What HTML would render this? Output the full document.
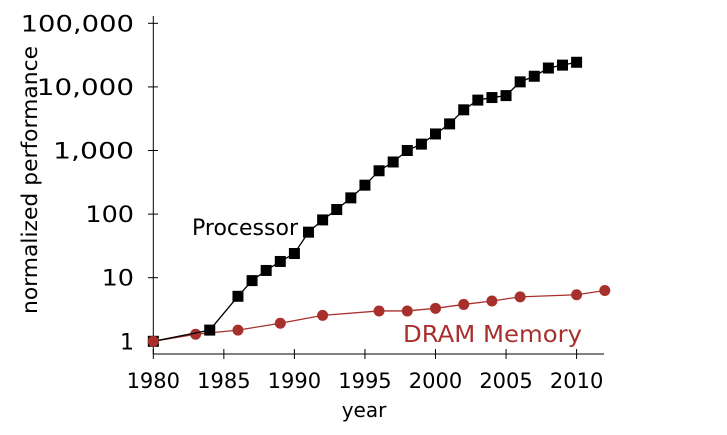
<!DOCTYPE html>
<html><head><meta charset="utf-8"><style>
html,body{margin:0;padding:0;background:#fff;}
svg{display:block;font-family:"DejaVu Sans","Liberation Sans",sans-serif;}
</style></head><body>
<svg id="chart" width="727" height="435" viewBox="0 0 727 435">
<g id="axes"></g>
<g id="series"></g>
<text x="192" y="235" font-size="22" textLength="106" lengthAdjust="spacingAndGlyphs" fill="#000">Processor</text>
<text x="403" y="342" font-size="23" textLength="179" lengthAdjust="spacingAndGlyphs" fill="#a8302c">DRAM Memory</text>
<text x="364" y="417" font-size="20" text-anchor="middle" fill="#000">year</text>
<text transform="translate(37,180) rotate(-90)" font-size="21" text-anchor="middle" textLength="268" lengthAdjust="spacingAndGlyphs" fill="#000">normalized performance</text>
</svg>
<script>
const procYears=[1980,1984,1986,1987,1988,1989,1990,1991,1992,1993,1994,1995,1996,1997,1998,1999,2000,2001,2002,2003,2004,2005,2006,2007,2008,2009,2010];
const procValues=[1,1.5,5.1,9,13,18,24,52,81,118,180,285,480,660,1000,1260,1820,2620,4360,6200,6800,7300,12000,14700,19800,22000,24400];
const dramYears=[1980,1983,1986,1989,1992,1996,1998,2000,2002,2004,2006,2010,2012];
const dramValues=[1,1.29,1.5,1.92,2.56,3.0,3.0,3.3,3.8,4.3,5.0,5.4,6.3];
const xTicks=[1980,1985,1990,1995,2000,2005,2010];
const yTicks=[1,10,100,1000,10000,100000];
const yTickLabels=["1","10","100","1,000","10,000","100,000"];

const NS="http://www.w3.org/2000/svg";
function xs(y){return 153.3+(y-1980)*14.11;}
function ys(v){return 341.3-Math.log10(v)*63.6;}
function mk(tag,attrs,parent){const e=document.createElementNS(NS,tag);for(const k in attrs)e.setAttribute(k,attrs[k]);parent.appendChild(e);return e;}
const axes=document.getElementById('axes'),series=document.getElementById('series');
let l=mk('line',{x1:153.3,y1:16,x2:153.3,y2:354,stroke:'#000','stroke-width':1},axes);


l=mk('line',{x1:153.3,y1:354,x2:604,y2:354,stroke:'#000','stroke-width':1},axes);


yTicks.forEach((v,i)=>{
 const y=ys(v);
 const t=mk('line',{x1:148,y1:y,x2:158,y2:y,stroke:'#000','stroke-width':1},axes);
 
 
 const lab=yTickLabels[i];
 const tx=mk('text',{x:134,y:y+8,'font-size':22,'text-anchor':'end',fill:'#000'},axes);
 if(lab.length>1){tx.setAttribute('textLength',lab.length*16.2);tx.setAttribute('lengthAdjust','spacingAndGlyphs');}
 tx.textContent=lab;
 
 
});
xTicks.forEach(v=>{
 const x=xs(v);
 const t=mk('line',{x1:x,y1:349,x2:x,y2:359,stroke:'#000','stroke-width':1},axes);
 
 
 const tx=mk('text',{x:x,y:388,'font-size':21,'text-anchor':'middle',fill:'#000'},axes);
 tx.textContent=String(v);
 
 
});
let pts=dramYears.map((y,i)=>xs(y)+','+ys(dramValues[i])).join(' ');
let pl=mk('polyline',{points:pts,fill:'none',stroke:'#a8302c','stroke-width':1.3},series);


dramYears.forEach((y,i)=>{
 const c=mk('circle',{cx:xs(y),cy:ys(dramValues[i]),r:5.5,fill:'#a8302c'},series);
 
 
});
pts=procYears.map((y,i)=>xs(y)+','+ys(procValues[i])).join(' ');
pl=mk('polyline',{points:pts,fill:'none',stroke:'#000','stroke-width':1.3},series);


procYears.forEach((y,i)=>{
 const r=mk('rect',{x:xs(y)-5.5,y:ys(procValues[i])-5.5,width:11,height:11,fill:'#000'},series);
 
 
});
const c0=mk('circle',{cx:xs(dramYears[0]),cy:ys(dramValues[0]),r:5.5,fill:'#a8302c'},series);


</script>
</body></html>
